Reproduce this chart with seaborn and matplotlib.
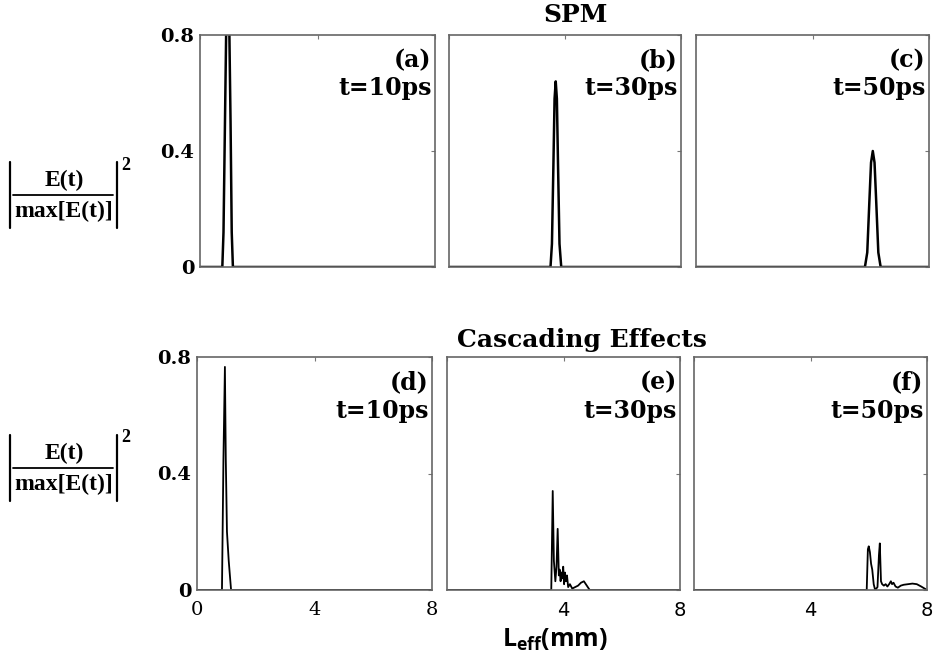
import matplotlib
matplotlib.use('Agg')
import matplotlib.pyplot as plt
from matplotlib.lines import Line2D
import seaborn as sns

# values, L_eff in mm, normalised intensity
x_a = [0, 0.76, 0.80, 0.85, 0.90, 0.945, 0.99, 1.04, 1.08, 1.12, 8]
y_a = [0, 0, 0.12, 0.50, 0.88, 1.00, 0.88, 0.50, 0.12, 0, 0]

x_b = [0, 3.50, 3.55, 3.60, 3.64, 3.68, 3.72, 3.76, 3.81, 3.87, 8]
y_b = [0, 0, 0.08, 0.35, 0.58, 0.64, 0.58, 0.35, 0.08, 0, 0]

x_c = [0, 5.80, 5.88, 5.95, 6.01, 6.07, 6.13, 6.19, 6.26, 6.34, 8]
y_c = [0, 0, 0.05, 0.22, 0.36, 0.40, 0.36, 0.22, 0.05, 0, 0]

x_d = [0, 0.85, 0.90, 0.95, 0.98, 1.02, 1.08, 1.16, 8]
y_d = [0, 0, 0.45, 0.766, 0.45, 0.20, 0.10, 0, 0]

x_e = [0, 3.58, 3.63, 3.67, 3.72, 3.76, 3.80, 3.84, 3.87, 3.90, 3.93, 3.96, 3.99,
       4.02, 4.05, 4.08, 4.12, 4.16, 4.22, 4.30, 4.40, 4.50, 4.60, 4.70, 4.80, 4.90, 8]
y_e = [0, 0, 0.34, 0.10, 0.03, 0.08, 0.21, 0.05, 0.07, 0.03, 0.06, 0.04, 0.08,
       0.02, 0.06, 0.03, 0.05, 0.01, 0.02, 0.005, 0.01, 0.015, 0.025, 0.03, 0.015, 0, 0]

x_f = [0, 5.93, 5.97, 6.00, 6.04, 6.08, 6.12, 6.17, 6.22, 6.30, 6.35, 6.38, 6.42, 6.46,
       6.52, 6.58, 6.64, 6.70, 6.76, 6.80, 6.85, 6.92, 7.00, 7.10, 7.20, 7.35, 7.50,
       7.65, 7.80, 7.95, 8]
y_f = [0, 0, 0.14, 0.15, 0.13, 0.09, 0.07, 0.02, 0.0, 0.01, 0.12, 0.16, 0.03, 0.02,
       0.015, 0.02, 0.012, 0.02, 0.03, 0.02, 0.025, 0.012, 0.008, 0.015, 0.018, 0.02, 0.022,
       0.02, 0.012, 0.003, 0]

panel_tags = ['(a)', '(b)', '(c)', '(d)', '(e)', '(f)']
times = ['t=10ps', 't=30ps', 't=50ps', 't=10ps', 't=30ps', 't=50ps']
y_ticks = [0, 0.4, 0.8]
y_ticklabels = ['0', '0.4', '0.8']
x_ticks = [0, 4, 8]
row_titles = ['SPM', 'Cascading Effects']

curves = [(x_a, y_a), (x_b, y_b), (x_c, y_c), (x_d, y_d), (x_e, y_e), (x_f, y_f)]

sns.set_style('white', {'text.color': 'black', 'xtick.color': 'black',
                        'ytick.color': 'black'})
plt.rcParams['font.family'] = ['DejaVu Serif']
plt.rcParams['mathtext.bf'] = 'Open Sans:bold'
plt.rcParams['mathtext.rm'] = 'Open Sans:bold'

fig = plt.figure(figsize=(9.33, 6.6), dpi=100)

W, H = 933, 660
# left, top, right, bottom in pixels
boxes = [(200, 35, 435, 267), (449, 35, 681, 267), (696, 35, 929, 267),
         (197, 357, 432, 590), (447, 357, 680, 590), (694, 357, 927, 590)]

serif_bold = dict(family='DejaVu Serif', weight='bold')

for i, (l, t, r, b) in enumerate(boxes):
    ax = fig.add_axes([l / W, 1 - b / H, (r - l) / W, (b - t) / H])
    xs, ys = curves[i]
    lw = 1.8 if i < 3 else 1.3
    sns.lineplot(x=xs, y=ys, ax=ax, color='black', linewidth=lw, sort=False)
    ax.set_xlim(0, 8)
    ax.set_ylim(0, 0.8)
    ax.set_xticks(x_ticks)
    ax.set_yticks(y_ticks)
    ax.tick_params(direction='in', top=True, right=True, length=3, width=0.8,
                   color='#777777', labelcolor='black', labelsize=14, pad=4)
    for sp in ax.spines.values():
        sp.set_color('#666666')
        sp.set_linewidth(1.2)

    if i % 3 == 0:
        ax.set_yticklabels(y_ticklabels, fontdict=serif_bold, fontsize=14)
    else:
        ax.set_yticklabels([])

    if i < 3:
        ax.set_xticklabels([])
    elif i == 3:
        ax.set_xticklabels(['0', '4', '8'], family='DejaVu Serif', fontsize=14)
        ax.tick_params(axis='x', pad=8)
    else:
        ax.set_xticklabels(['', '4', '8'], family='DejaVu Sans', fontsize=14)
        ax.tick_params(axis='x', pad=8)

    ax.set_xlabel('')
    ax.set_ylabel('')
    ax.text(0.985, 0.89, panel_tags[i], transform=ax.transAxes, ha='right',
            va='center', fontsize=17, **serif_bold)
    ax.text(0.985, 0.77, times[i], transform=ax.transAxes, ha='right',
            va='center', fontsize=17, **serif_bold)

fig.text(576 / W, 1 - 15 / H, row_titles[0], ha='center', va='center',
         fontsize=18, **serif_bold)
fig.text(582 / W, 1 - 340 / H, row_titles[1], ha='center', va='center',
         fontsize=18, **serif_bold)


# |E(t)/max[E(t)]|^2 label, built from text and lines (pixel positions)
def px(x, y):
    return x / W, 1 - y / H


times_bold = dict(family='Liberation Serif', weight='bold')
for fy in [195, 468]:
    fig.text(*px(64, fy - 15), 'E(t)', ha='center', va='center', fontsize=17, **times_bold)
    fig.text(*px(64, fy + 16), 'max[E(t)]', ha='center', va='center', fontsize=17,
             **times_bold)
    fig.add_artist(Line2D([13 / W, 113 / W], [1 - fy / H] * 2, color='black',
                          linewidth=1.3, transform=fig.transFigure))
    for bx in [10, 117]:
        fig.add_artist(Line2D([bx / W] * 2, [1 - (fy - 33) / H, 1 - (fy + 33) / H],
                              color='black', linewidth=1.6, transform=fig.transFigure))
    fig.text(*px(126, fy - 30), '2', ha='center', va='center', fontsize=13, **times_bold)

fig.text(555 / W, 1 - 640 / H, r'$\mathbf{L_{eff}(mm)}$', math_fontfamily='custom',
         fontsize=18, ha='center', va='center')

fig.savefig('out.png', dpi=100)
